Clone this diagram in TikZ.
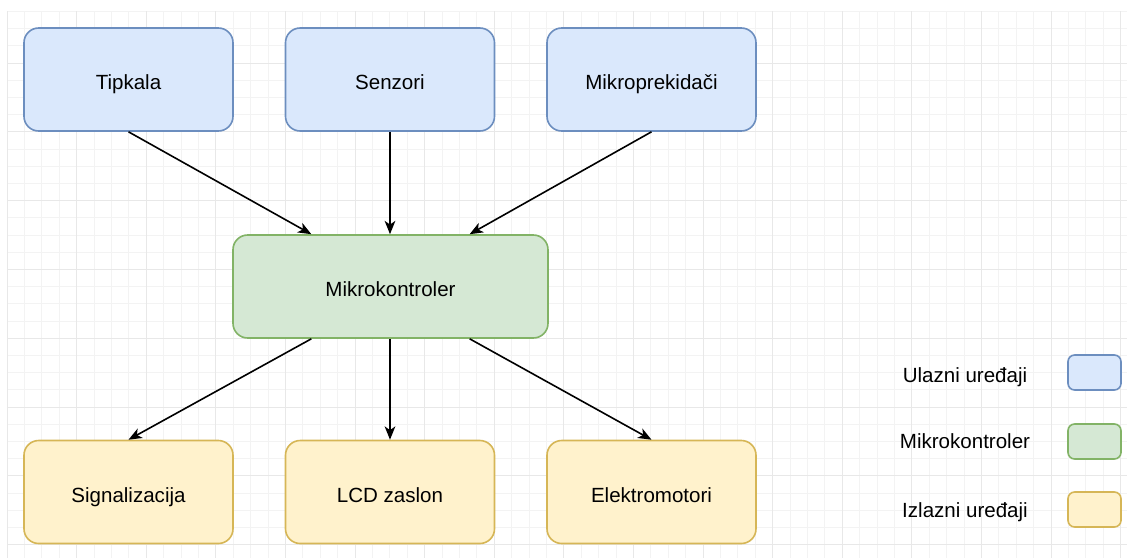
\documentclass[tikz,border=0pt]{standalone}
\usepackage{fontspec}
\setmainfont{Liberation Sans}
\usetikzlibrary{arrows.meta,calc}

\definecolor{inFill}{HTML}{DAE8FC}
\definecolor{inLine}{HTML}{6C8EBF}
\definecolor{mcuFill}{HTML}{D5E8D4}
\definecolor{mcuLine}{HTML}{82B366}
\definecolor{outFill}{HTML}{FFF2CC}
\definecolor{outLine}{HTML}{D6B656}
\definecolor{gridMinor}{HTML}{F3F3F3}
\definecolor{gridMajor}{HTML}{E8E8E8}

\tikzset{
  block/.style={rectangle, rounded corners=11pt, line width=1.2pt,
    minimum width=156.75pt, minimum height=77.25pt, inner sep=0pt,
    text height=15pt, text depth=0pt,
    font=\fontsize{15.4}{18}\selectfont},
  inblock/.style={block, draw=inLine, fill=inFill},
  mcublock/.style={block, draw=mcuLine, fill=mcuFill, minimum width=236.25pt},
  outblock/.style={block, draw=outLine, fill=outFill},
  keybox/.style={rectangle, rounded corners=5pt, line width=1.2pt,
    minimum width=39.75pt, minimum height=26.25pt, inner sep=0pt},
  keytext/.style={font=\fontsize{15.4}{18}\selectfont, inner sep=0pt,
    text height=11pt, text depth=3pt},
  link/.style={-{Stealth[length=10pt,width=8pt,inset=2.8pt]}, line width=1.2pt}
}

\begin{document}
\begin{tikzpicture}[x=0.75pt, y=-0.75pt]
    \useasboundingbox (0,0) rectangle (1127,558);
    \fill[white] (0,0) rectangle (1127,558);

    % Draw the background grid
    \foreach \i in {0,...,64}
        \draw[gridMinor, line width=0.75pt] ({7+17.4*\i},11.4) -- ({7+17.4*\i},558);
    \foreach \j in {0,...,31}
        \draw[gridMinor, line width=0.75pt] (7,{11.4+17.2*\j}) -- (1127,{11.4+17.2*\j});
    \foreach \i in {0,...,16}
        \draw[gridMajor, line width=0.75pt] ({7+69.6*\i},11.4) -- ({7+69.6*\i},558);
    \foreach \j in {1,...,8}
        \draw[gridMajor, line width=0.75pt] (7,{-5.8+68.8*\j}) -- (1127,{-5.8+68.8*\j});

    % Input devices
    \node[inblock] (tipkala) at (128.5,79.5) {Tipkala};
    \node[inblock] (senzori) at (390,79.5) {Senzori};
    \node[inblock] (prekidaci) at (651.5,79.5) {Mikroprekidači};

    % Microcontroller
    \node[mcublock] (mcu) at (390.5,286.5) {Mikrokontroler};

    % Output devices
    \node[outblock] (signal) at (128.5,492) {Signalizacija};
    \node[outblock] (lcd) at (390,492) {LCD zaslon};
    \node[outblock] (motori) at (651.5,492) {Elektromotori};

    % Connection points on the microcontroller
    \coordinate (mcuNL) at ($(mcu.north west)!0.25!(mcu.north east)$);
    \coordinate (mcuNR) at ($(mcu.north west)!0.75!(mcu.north east)$);
    \coordinate (mcuSL) at ($(mcu.south west)!0.25!(mcu.south east)$);
    \coordinate (mcuSR) at ($(mcu.south west)!0.75!(mcu.south east)$);

    % Draw input arrows
    \draw[link] (tipkala.south) -- (mcuNL);
    \draw[link] (senzori.south) -- (senzori.south |- mcu.north);
    \draw[link] (prekidaci.south) -- (mcuNR);

    % Draw output arrows
    \draw[link] (mcuSL) -- (signal.north);
    \draw[link] (lcd.north |- mcu.south) -- (lcd.north);
    \draw[link] (mcuSR) -- (motori.north);

    % Legend
    \node[keytext] (keyIn) at (965,377) {Ulazni uređaji};
    \node[keytext] (keyMcu) at (965,443) {Mikrokontroler};
    \node[keytext] (keyOut) at (965,512) {Izlazni uređaji};
    \node[keybox, draw=inLine, fill=inFill] (boxIn) at (1094.5,372.5) {};
    \node[keybox, draw=mcuLine, fill=mcuFill] (boxMcu) at (1094.5,441.5) {};
    \node[keybox, draw=outLine, fill=outFill] (boxOut) at (1094.5,509.5) {};
\end{tikzpicture}
\end{document}
